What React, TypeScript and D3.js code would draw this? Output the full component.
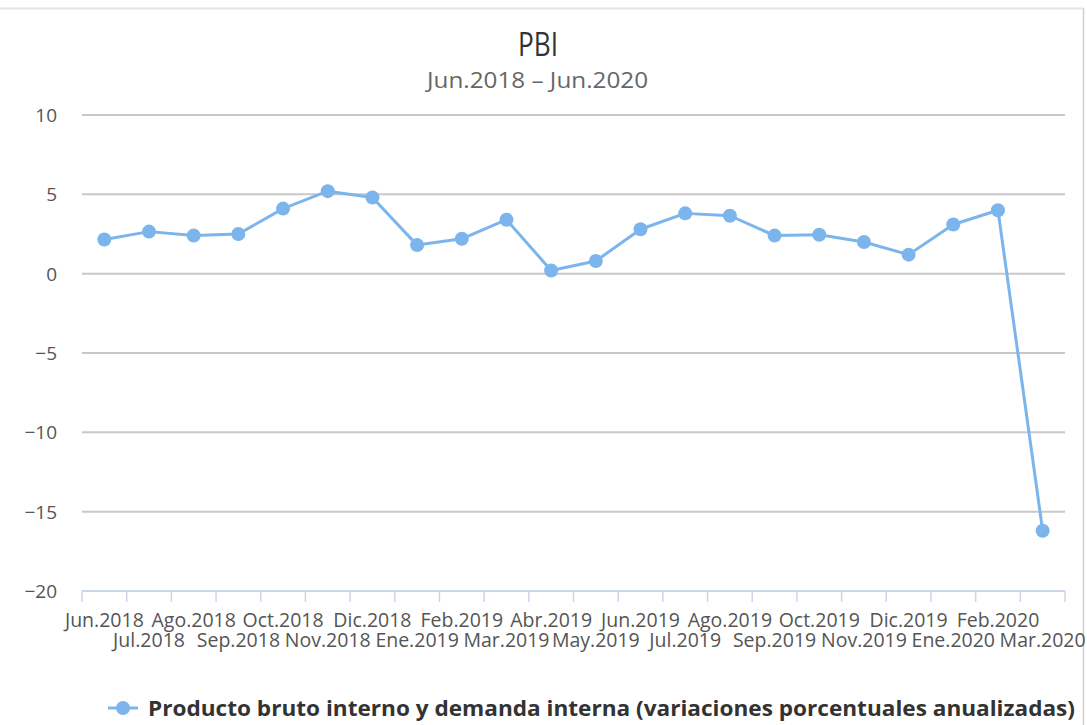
import React, { useEffect, useRef } from 'react'
import * as d3 from 'd3'

const categories = [
  'Jun.2018', 'Jul.2018', 'Ago.2018', 'Sep.2018', 'Oct.2018', 'Nov.2018',
  'Dic.2018', 'Ene.2019', 'Feb.2019', 'Mar.2019', 'Abr.2019', 'May.2019',
  'Jun.2019', 'Jul.2019', 'Ago.2019', 'Sep.2019', 'Oct.2019', 'Nov.2019',
  'Dic.2019', 'Ene.2020', 'Feb.2020', 'Mar.2020'
]

const pbiValues = [
  2.15, 2.65, 2.4, 2.5, 4.1, 5.2, 4.8, 1.8, 2.2, 3.4, 0.2,
  0.8, 2.8, 3.8, 3.65, 2.4, 2.45, 2.0, 1.2, 3.1, 4.0, -16.2
]

const yTicks = [-20, -15, -10, -5, 0, 5, 10]

const seriesName = 'Producto bruto interno y demanda interna (variaciones porcentuales anualizadas)'
const titleText = 'PBI'
const subtitleText = 'Jun.2018 – Jun.2020'

const W = 1087
const H = 725
const FONT = '"Open Sans", "DejaVu Sans", sans-serif'
const COLOR = '#7cb5ec'

export default function App() {
  const svgRef = useRef<SVGSVGElement>(null)

  useEffect(() => {
    if (!svgRef.current) return
    const svg = d3.select(svgRef.current)
    svg.selectAll('*').remove()

    const margin = { top: 115, right: 22, bottom: 134, left: 82 }
    const width = W - margin.left - margin.right
    const height = H - margin.top - margin.bottom

    // frame
    svg.append('rect').attr('width', W).attr('height', H).attr('fill', '#fff')
    svg.append('line').attr('x1', 0).attr('x2', 1083).attr('y1', 8.5).attr('y2', 8.5)
      .attr('stroke', '#e4e4e4').attr('stroke-width', 2)
    svg.append('line').attr('x1', 1083.5).attr('x2', 1083.5).attr('y1', 8).attr('y2', H)
      .attr('stroke', '#d0d0d0').attr('stroke-width', 1.5)

    // titles (condensed face in the original, so squeeze to its width)
    svg.append('text')
      .attr('x', 518).attr('y', 56)
      .attr('textLength', 40).attr('lengthAdjust', 'spacingAndGlyphs')
      .style('font-family', FONT).style('font-size', '33px').attr('fill', '#333')
      .text(titleText)
    svg.append('text')
      .attr('x', 427).attr('y', 88)
      .attr('textLength', 221).attr('lengthAdjust', 'spacingAndGlyphs')
      .style('font-family', FONT).style('font-size', '22px').attr('fill', '#666')
      .text(subtitleText)

    const g = svg.append('g').attr('transform', `translate(${margin.left},${margin.top})`)

    const x = d3.scaleBand().domain(categories).range([0, width])
    const y = d3.scaleLinear().domain([-20, 10]).range([height, 0])

    // gridlines
    g.selectAll('.grid')
      .data(yTicks.filter(t => t !== -20))
      .enter()
      .append('line')
      .attr('x1', 0).attr('x2', width)
      .attr('y1', d => y(d)).attr('y2', d => y(d))
      .attr('stroke', '#c8c8c8').attr('stroke-width', 2)

    // y labels
    g.selectAll('.ylab')
      .data(yTicks)
      .enter()
      .append('text')
      .attr('x', -25).attr('y', d => y(d) + 7)
      .attr('text-anchor', 'end')
      .style('font-family', FONT).style('font-size', '19px').attr('fill', '#555')
      .text(d => (d < 0 ? '−' + Math.abs(d) : String(d)))

    // x axis
    g.append('line')
      .attr('x1', 0).attr('x2', width)
      .attr('y1', height).attr('y2', height)
      .attr('stroke', '#ccd6eb').attr('stroke-width', 2)
    const tickPos = categories.map(c => x(c) as number).concat([width])
    g.selectAll('.xtick')
      .data(tickPos)
      .enter()
      .append('line')
      .attr('x1', d => d).attr('x2', d => d)
      .attr('y1', height).attr('y2', height + 11)
      .attr('stroke', '#ccd6eb').attr('stroke-width', 1.5)

    // labels alternate between two rows, as in the original
    g.selectAll('.xlab')
      .data(categories)
      .enter()
      .append('text')
      .attr('x', d => (x(d) as number) + x.bandwidth() / 2)
      .attr('y', (d, i) => height + (i % 2 === 0 ? 36 : 56))
      .attr('text-anchor', 'middle')
      .style('font-family', FONT).style('font-size', '19.5px').attr('fill', '#555')
      .text(d => d)

    // series
    const line = d3.line<number>()
      .x((d, i) => (x(categories[i]) as number) + x.bandwidth() / 2)
      .y(d => y(d))
    g.append('path')
      .datum(pbiValues)
      .attr('d', line)
      .attr('fill', 'none')
      .attr('stroke', COLOR)
      .attr('stroke-width', 3)
      .attr('stroke-linejoin', 'round')
    g.selectAll('.pt')
      .data(pbiValues)
      .enter()
      .append('circle')
      .attr('cx', (d, i) => (x(categories[i]) as number) + x.bandwidth() / 2)
      .attr('cy', d => y(d))
      .attr('r', 7)
      .attr('fill', COLOR)

    // legend
    const lg = svg.append('g').attr('transform', 'translate(108,708)')
    lg.append('line').attr('x1', 0).attr('x2', 30).attr('y1', 0).attr('y2', 0)
      .attr('stroke', COLOR).attr('stroke-width', 3)
    lg.append('circle').attr('cx', 15).attr('cy', 0).attr('r', 7).attr('fill', COLOR)
    lg.append('text')
      .attr('x', 40).attr('y', 8)
      .attr('textLength', 927).attr('lengthAdjust', 'spacingAndGlyphs')
      .style('font-family', FONT).style('font-size', '22px').style('font-weight', 'bold')
      .attr('fill', '#333')
      .text(seriesName)
  }, [])

  return (
    <div style={{ position: 'fixed', left: 0, top: 0, width: W, height: H }}>
      <svg ref={svgRef} width={W} height={H}></svg>
    </div>
  )
}
